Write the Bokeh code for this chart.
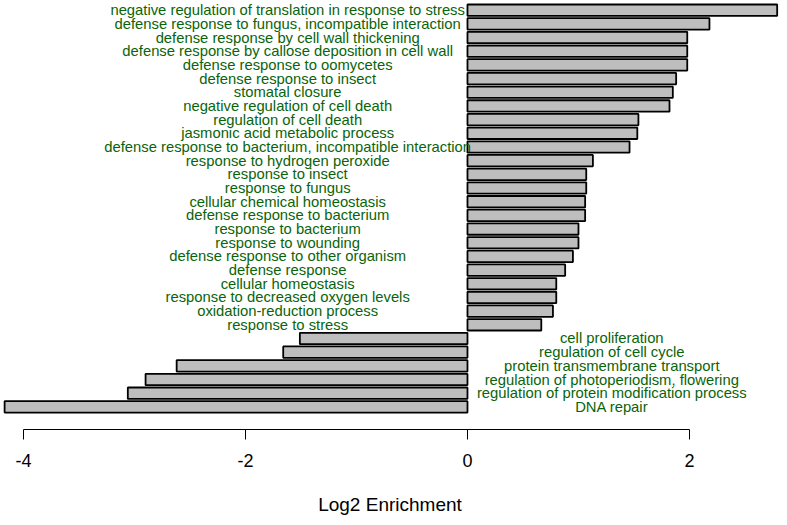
from bokeh.plotting import figure
from bokeh.models import Range1d, FixedTicker, ColumnDataSource
from bokeh.core.properties import value
from bokeh.embed import file_html
from bokeh.resources import INLINE

# GO terms, top to bottom
terms = [
    "negative regulation of translation in response to stress",
    "defense response to fungus, incompatible interaction",
    "defense response by cell wall thickening",
    "defense response by callose deposition in cell wall",
    "defense response to oomycetes",
    "defense response to insect",
    "stomatal closure",
    "negative regulation of cell death",
    "regulation of cell death",
    "jasmonic acid metabolic process",
    "defense response to bacterium, incompatible interaction",
    "response to hydrogen peroxide",
    "response to insect",
    "response to fungus",
    "cellular chemical homeostasis",
    "defense response to bacterium",
    "response to bacterium",
    "response to wounding",
    "defense response to other organism",
    "defense response",
    "cellular homeostasis",
    "response to decreased oxygen levels",
    "oxidation-reduction process",
    "response to stress",
    "cell proliferation",
    "regulation of cell cycle",
    "protein transmembrane transport",
    "regulation of photoperiodism, flowering",
    "regulation of protein modification process",
    "DNA repair",
]
log2_enrichment = [
    2.79, 2.18, 1.98, 1.98, 1.98, 1.88, 1.85, 1.82, 1.54, 1.53,
    1.46, 1.13, 1.07, 1.07, 1.06, 1.06, 1.00, 1.00, 0.95, 0.88,
    0.80, 0.80, 0.77, 0.665, -1.51, -1.66, -2.62, -2.90, -3.06, -4.17,
]
x_ticks = [-4, -2, 0, 2]
tick_labels = {-4: "-4", -2: "-2", 0: "0", 2: "2"}

n = len(terms)
# barplot layout: bar width 1, space 0.2, first term at top
ypos = [1.2 * (n - i) - 0.5 for i in range(n)]
left_x, right_x = -1.62, 1.30
label_x = [left_x if v >= 0 else right_x for v in log2_enrichment]

src = ColumnDataSource(dict(term=terms, val=log2_enrichment, y=ypos, lx=label_x))

p = figure(width=779, height=517, output_backend="svg", toolbar_location=None,
           x_range=Range1d(-4.207, 2.811), y_range=Range1d(-1.285, 36.35),
           min_border=0, min_border_left=0, min_border_right=0,
           min_border_top=0, min_border_bottom=0)
p.outline_line_color = None
p.background_fill_color = "white"
p.border_fill_color = "white"
p.xgrid.visible = False
p.ygrid.visible = False
p.yaxis.visible = False

p.hbar(y="y", left=0, right="val", height=1.0, source=src,
       fill_color="#bebebe", line_color="black", line_width=1.8)

p.text(x="lx", y="y", text="term", source=src,
       text_font=value("Liberation Sans"), text_font_size="14.8px",
       text_color="#0a640a", text_align="center", text_baseline="middle")

ax = p.xaxis[0]
ax.ticker = FixedTicker(ticks=x_ticks)
ax.major_label_overrides = tick_labels
ax.bounds = (-4, 2)
ax.axis_line_color = "black"
ax.axis_line_width = 1
ax.major_tick_line_color = "black"
ax.major_tick_in = 0
ax.major_tick_out = 10
ax.minor_tick_line_color = None
ax.major_label_text_font = "Liberation Sans"
ax.major_label_text_font_size = "18px"
ax.major_label_text_color = "black"
ax.major_label_standoff = 14
ax.axis_label = "Log2 Enrichment"
ax.axis_label_text_font = "Liberation Sans"
ax.axis_label_text_font_size = "19px"
ax.axis_label_text_font_style = "normal"
ax.axis_label_text_color = "black"
ax.axis_label_standoff = 24

open("out.html", "w").write(file_html(p, INLINE))
